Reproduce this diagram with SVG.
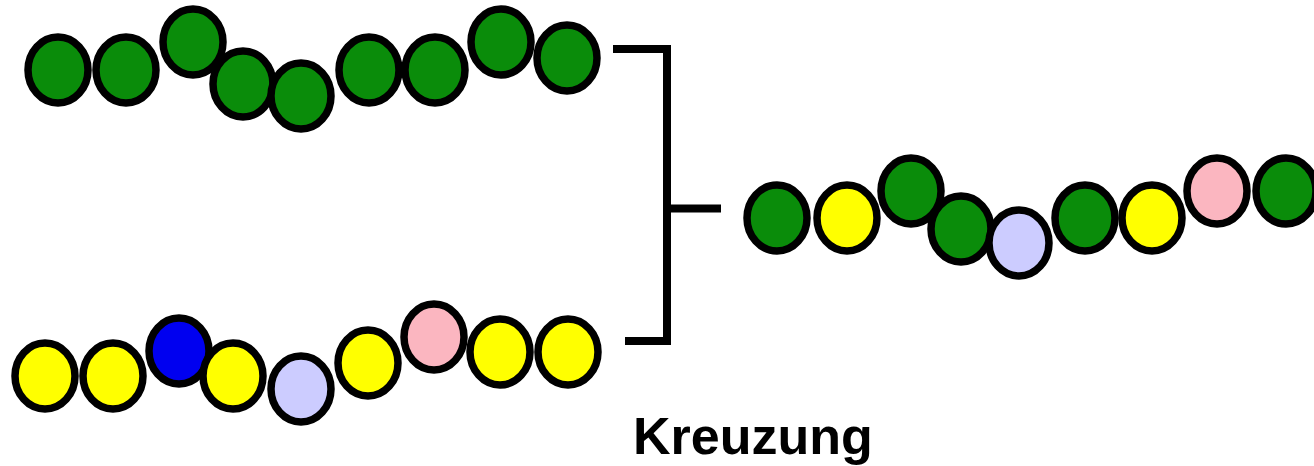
<svg xmlns="http://www.w3.org/2000/svg" width="1314" height="466" viewBox="0 0 1314 466">
  <style>
    .bead { stroke: #000; stroke-width: 7.5; }
    .g { fill: #0A8C0A; }
    .y { fill: #FFFF00; }
    .b { fill: #0000F0; }
    .l { fill: #CCCCFF; }
    .p { fill: #FBB6C0; }
    .link { stroke: #000; stroke-width: 8; fill: none; stroke-linecap: butt; stroke-linejoin: miter; }
    .label { font-family: "Liberation Sans", Arial, sans-serif; font-weight: bold; font-size: 52px; fill: #000; }
  </style>
  <rect width="1314" height="466" fill="#fff"/>

  <!-- Parent strand 1: all green beads -->
  <g id="strand-top">
    <ellipse class="bead g" cx="58" cy="70" rx="30" ry="33"/>
    <ellipse class="bead g" cx="126" cy="70" rx="30" ry="33"/>
    <ellipse class="bead g" cx="193" cy="42" rx="30" ry="33"/>
    <ellipse class="bead g" cx="243" cy="84" rx="30" ry="33"/>
    <ellipse class="bead g" cx="301" cy="96" rx="30" ry="33"/>
    <ellipse class="bead g" cx="369" cy="70" rx="30" ry="33"/>
    <ellipse class="bead g" cx="435" cy="70" rx="30" ry="33"/>
    <ellipse class="bead g" cx="501" cy="42" rx="30" ry="33"/>
    <ellipse class="bead g" cx="567" cy="58" rx="30" ry="33"/>
  </g>

  <!-- Parent strand 2: mostly yellow beads -->
  <g id="strand-bottom">
    <ellipse class="bead y" cx="45" cy="376" rx="30" ry="33"/>
    <ellipse class="bead y" cx="113" cy="376" rx="30" ry="33"/>
    <ellipse class="bead b" cx="179" cy="351" rx="30" ry="33"/>
    <ellipse class="bead y" cx="233" cy="376" rx="30" ry="33"/>
    <ellipse class="bead l" cx="301" cy="389" rx="30" ry="33"/>
    <ellipse class="bead y" cx="368" cy="363" rx="30" ry="33"/>
    <ellipse class="bead p" cx="434" cy="337" rx="30" ry="33"/>
    <ellipse class="bead y" cx="500" cy="352" rx="30" ry="33"/>
    <ellipse class="bead y" cx="568" cy="352" rx="30" ry="33"/>
  </g>

  <!-- Bracket joining both parents into the offspring -->
  <g id="connectors">
    <polyline class="link" points="613,49 667,49 667,341 625,341"/>
    <line class="link" x1="667" y1="208.5" x2="721" y2="208.5"/>
  </g>

  <!-- Offspring strand: mixed beads -->
  <g id="strand-result">
    <ellipse class="bead g" cx="777" cy="218" rx="30" ry="33"/>
    <ellipse class="bead y" cx="847" cy="218" rx="30" ry="33"/>
    <ellipse class="bead g" cx="911" cy="191" rx="30" ry="33"/>
    <ellipse class="bead g" cx="961" cy="229" rx="30" ry="33"/>
    <ellipse class="bead l" cx="1019" cy="243" rx="30" ry="33"/>
    <ellipse class="bead g" cx="1085" cy="218" rx="30" ry="33"/>
    <ellipse class="bead y" cx="1152" cy="218" rx="30" ry="33"/>
    <ellipse class="bead p" cx="1217" cy="191" rx="30" ry="33"/>
    <ellipse class="bead g" cx="1286" cy="191" rx="30" ry="33"/>
  </g>

  <g id="caption">
    <text class="label" x="633" y="454">Kreuzung</text>
  </g>
</svg>
